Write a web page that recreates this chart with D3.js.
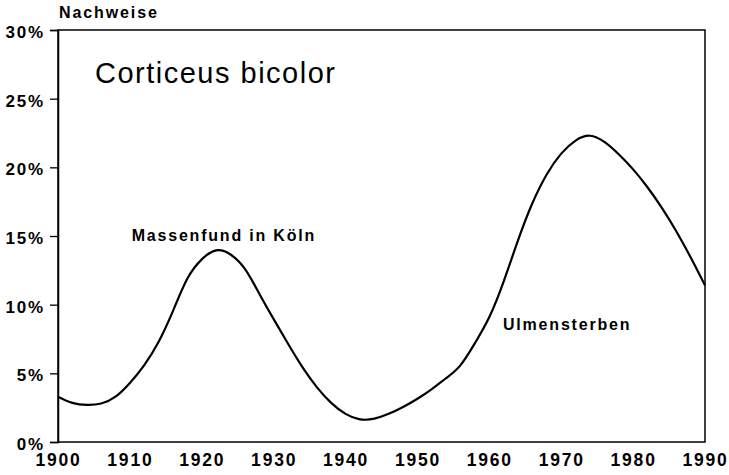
<!DOCTYPE html>
<html>
<head>
<meta charset="utf-8">
<script src="https://cdn.jsdelivr.net/npm/d3@7"></script>
<style>
  body { margin: 0; background: #fff; }
  svg { display: block; }
  text { font-family: "Liberation Sans", Arial, Helvetica, sans-serif; fill: #000; }
</style>
</head>
<body>
<svg id="chart" width="729" height="475"></svg>
<script>
// ---- data ----
const years = [1900,1902,1904,1906,1908,1910,1912,1914,1916,1918,1920,1922,1924,1926,1928,1930,1932,1934,1936,1938,1940,1942,1944,1946,1948,1950,1952,1954,1956,1958,1960,1962,1964,1966,1968,1970,1972,1974,1976,1978,1980,1982,1984,1986,1988,1990];
const values = [3.3,2.85,2.7,2.8,3.3,4.3,5.6,7.3,9.55,11.9,13.3,13.95,13.65,12.6,10.8,8.95,7.15,5.45,4.0,2.85,2.05,1.65,1.7,2.05,2.55,3.15,3.85,4.65,5.6,7.2,9.1,11.7,14.7,17.4,19.5,21.0,21.95,22.3,21.85,20.95,19.85,18.55,17.05,15.35,13.45,11.4];
const xTicks = [1900,1910,1920,1930,1940,1950,1960,1970,1980,1990];
const yTicks = [0,5,10,15,20,25,30];
const title = "Corticeus bicolor";
const yTitle = "Nachweise";
const annotations = [
  {text: "Massenfund in Köln", year: 1910.25, value: 14.66},
  {text: "Ulmensterben", year: 1961.9, value: 8.15}
];

// ---- layout ----
const svg = d3.select("#chart");
const m = {left: 58, right: 705, top: 30, bottom: 442};
const x = d3.scaleLinear().domain([1900, 1990]).range([m.left, m.right]);
const y = d3.scaleLinear().domain([0, 30]).range([m.bottom, m.top]);

// frame
svg.append("rect")
  .attr("x", m.left).attr("y", m.top)
  .attr("width", m.right - m.left).attr("height", m.bottom - m.top)
  .attr("fill", "none").attr("stroke", "#000").attr("stroke-width", 1.5);

// y axis
const yAxis = svg.append("g").attr("transform", `translate(${m.left},0)`)
  .call(d3.axisLeft(y).tickValues(yTicks).tickFormat(d => d + "%").tickSize(8).tickPadding(5));
yAxis.select(".domain").attr("stroke-width", 1.5);
yAxis.selectAll(".tick line").attr("stroke-width", 1.3);
yAxis.selectAll("text")
  .style("font-size", "17px").style("font-weight", "bold")
  .style("letter-spacing", "1.8px")
  .attr("dy", "0.45em").attr("fill", "#000");

// x axis
const xAxis = svg.append("g").attr("transform", `translate(0,${m.bottom})`)
  .call(d3.axisBottom(x).tickValues(xTicks).tickFormat(d3.format("d")).tickSize(0).tickPadding(12));
xAxis.select(".domain").remove();
xAxis.selectAll("text")
  .style("font-size", "17.5px").style("font-weight", "bold")
  .style("letter-spacing", "1.8px")
  .attr("fill", "#000");

// axis title
svg.append("text").attr("x", 59).attr("y", 18)
  .style("font-size", "16px").style("font-weight", "bold").style("letter-spacing", "1.9px")
  .text(yTitle);

// chart title
svg.append("text").attr("x", 95).attr("y", 83)
  .style("font-size", "29px").style("letter-spacing", "1.5px")
  .text(title);

// curve
const data = years.map((yr, i) => ({year: yr, value: values[i]}));
const line = d3.line().x(d => x(d.year)).y(d => y(d.value)).curve(d3.curveNatural);
svg.append("path").datum(data)
  .attr("d", line).attr("fill", "none").attr("stroke", "#000")
  .attr("stroke-width", 2.2).attr("stroke-linejoin", "round");

// annotations
svg.selectAll(".ann").data(annotations).enter().append("text")
  .attr("class", "ann")
  .attr("x", d => x(d.year)).attr("y", d => y(d.value))
  .style("font-size", "16px").style("font-weight", "bold").style("letter-spacing", "1.8px")
  .text(d => d.text);
</script>
</body>
</html>
